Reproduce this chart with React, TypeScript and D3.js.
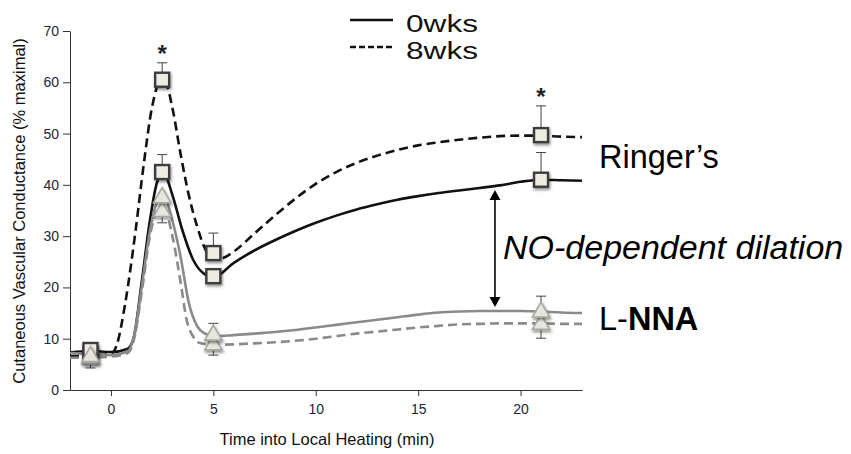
import React, { useEffect, useRef } from "react";
import * as d3 from "d3";

type Pt = [number, number];

// continuous traces (time in min, CVC % maximal)
const ringer0wks: Pt[] = [
  [-2, 7.3], [-1, 7.6], [0, 7.4], [0.8, 8.0], [1.1, 10], [1.5, 21], [1.9, 33], [2.3, 41], [2.6, 42],
  [3.0, 38], [3.5, 31], [4.0, 25.5], [4.5, 22.8], [5, 22], [6, 24.8], [7, 27.2], [8, 29.2], [9, 31],
  [10, 32.6], [11, 34], [12, 35.2], [13, 36.2], [14, 37.1], [15, 37.8], [16, 38.4], [17, 38.9], [18, 39.4],
  [19, 39.9], [20, 40.6], [21, 41], [22, 40.9], [23, 40.8],
];
const ringer8wks: Pt[] = [
  [-2, 6.6], [-1, 6.8], [0, 7.0], [0.3, 9], [0.7, 17], [1.2, 31], [1.6, 44], [2.0, 55], [2.4, 60],
  [2.7, 59.5], [3.0, 55], [3.4, 46], [3.8, 38], [4.2, 32], [4.6, 27.5], [5.0, 25.5], [5.5, 25.8],
  [6, 27], [7, 30.5], [8, 34], [9, 37.3], [10, 40.2], [11, 42.5], [12, 44.3], [13, 45.7], [14, 46.8],
  [15, 47.7], [16, 48.3], [17, 48.8], [18, 49.2], [19, 49.5], [20, 49.6], [21, 49.6], [22, 49.4], [23, 49.3],
];
const lnna0wks: Pt[] = [
  [-2, 7.2], [-1, 7.0], [0, 6.8], [0.8, 7.5], [1.1, 10], [1.5, 20], [1.9, 31], [2.3, 37], [2.6, 37.5],
  [3.0, 33], [3.4, 26], [3.8, 17], [4.2, 12.5], [4.6, 11], [5, 10.5], [6, 10.7], [7, 11], [8, 11.3],
  [9, 11.7], [10, 12.2], [11, 12.7], [12, 13.2], [13, 13.7], [14, 14.2], [15, 14.7], [16, 15.1],
  [17, 15.3], [18, 15.4], [19, 15.4], [20, 15.4], [21, 15.3], [22, 15.1], [23, 15.0],
];
const lnna8wks: Pt[] = [
  [-2, 6.3], [-1, 6.3], [0, 6.5], [0.8, 7.2], [1.1, 9.5], [1.5, 19], [1.9, 30], [2.3, 35], [2.6, 35.3],
  [3.0, 30], [3.4, 21], [3.7, 13.6], [4.0, 10.5], [4.3, 9.2], [5, 8.8], [6, 8.9], [7, 9.1], [8, 9.3],
  [9, 9.6], [10, 10], [11, 10.5], [12, 11], [13, 11.4], [14, 11.8], [15, 12.2], [16, 12.5], [17, 12.8],
  [18, 12.9], [19, 13], [20, 13], [21, 13], [22, 12.9], [23, 12.9],
];

// mean points [time, value, error]; error > 0 drawn up, < 0 drawn down
const markerTimes = [-1, 2.5, 5, 21];
const ringer0Means = [7.8, 42.5, 22.2, 41.0];
const ringer0Err = [0, 3.4, 0, 5.3];
const ringer8Means = [7.0, 60.5, 26.7, 49.7];
const ringer8Err = [0, 3.3, 3.9, 5.7];
const lnna0Means = [6.5, 37.5, 10.7, 15.2];
const lnna0Err = [0, 0, 2.3, 3.1];
const lnna8Means = [6.0, 34.8, 8.8, 12.8];
const lnna8Err = [-1.7, -2.2, -2.0, -2.7];

const significant: Pt[] = [[2.5, 63.8], [21, 55.4]];
const arrowSpan = { t: 18.75, top: 39.0, bottom: 16.2 };

const xTicks = [0, 5, 10, 15, 20];
const yTicks = [0, 10, 20, 30, 40, 50, 60, 70];

const App: React.FC = () => {
  const svgRef = useRef<SVGSVGElement | null>(null);

  useEffect(() => {
    const svg = d3.select(svgRef.current);
    svg.selectAll("*").remove();
    const width = 851;
    const height = 454;
    svg.attr("width", width).attr("height", height);

    const x = d3.scaleLinear().domain([-2, 23]).range([70, 582]);
    const y = d3.scaleLinear().domain([0, 70]).range([390, 31]);
    const tickColor = "#23233a";

    const defs = svg.append("defs");
    const f = defs.append("filter").attr("id", "shadow").attr("x", "-50%").attr("y", "-50%").attr("width", "200%").attr("height", "200%");
    f.append("feDropShadow").attr("dx", 1).attr("dy", 2).attr("stdDeviation", 1.4).attr("flood-color", "#000").attr("flood-opacity", 0.45);

    // axes
    const xAxis = svg.append("g").attr("transform", `translate(0,${y(0)})`)
      .call(d3.axisBottom(x).tickValues(xTicks).tickSize(6).tickSizeOuter(0).tickPadding(8));
    xAxis.select(".domain").attr("stroke", "#333");
    xAxis.selectAll(".tick line").attr("stroke", "#333");
    xAxis.selectAll("text").attr("font-family", "Arial, 'Liberation Sans'").attr("font-size", 14).attr("fill", tickColor);

    const yAxis = svg.append("g").attr("transform", `translate(${x(-2)},0)`)
      .call(d3.axisLeft(y).tickValues(yTicks).tickSize(7).tickSizeOuter(0).tickPadding(4));
    yAxis.select(".domain").attr("stroke", "#333");
    yAxis.selectAll(".tick line").attr("stroke", "#333");
    yAxis.selectAll("text").attr("font-family", "Arial, 'Liberation Sans'").attr("font-size", 14).attr("fill", tickColor);

    svg.append("text")
      .attr("x", 327).attr("y", 445)
      .attr("text-anchor", "middle")
      .attr("font-family", "Arial, 'Liberation Sans'").attr("font-size", 16.5).attr("fill", "#111")
      .text("Time into Local Heating (min)");

    svg.append("text")
      .attr("transform", "translate(25,211) rotate(-90)")
      .attr("text-anchor", "middle")
      .attr("font-family", "Arial, 'Liberation Sans'").attr("font-size", 16.5).attr("fill", "#111")
      .text("Cutaneous Vascular Conductance (% maximal)");

    // traces
    const line = d3.line<Pt>().x((d) => x(d[0])).y((d) => y(d[1])).curve(d3.curveMonotoneX);
    const traces = [
      { data: ringer8wks, color: "#111", dash: "9,5" },
      { data: ringer0wks, color: "#111", dash: null },
      { data: lnna8wks, color: "#8a8a8a", dash: "9,5" },
      { data: lnna0wks, color: "#8a8a8a", dash: null },
    ];
    traces.forEach((tr) => {
      svg.append("path")
        .attr("d", line(tr.data))
        .attr("fill", "none")
        .attr("stroke", tr.color)
        .attr("stroke-width", 2.6)
        .attr("stroke-dasharray", tr.dash)
        .attr("stroke-linejoin", "round");
    });

    // error bars
    const errs = [
      { means: ringer8Means, err: ringer8Err },
      { means: ringer0Means, err: ringer0Err },
      { means: lnna0Means, err: lnna0Err },
      { means: lnna8Means, err: lnna8Err },
    ];
    errs.forEach((s) => {
      markerTimes.forEach((t, i) => {
        if (!s.err[i]) return;
        const y0 = y(s.means[i]);
        const y1 = y(s.means[i] + s.err[i]);
        svg.append("line").attr("x1", x(t)).attr("x2", x(t)).attr("y1", y0).attr("y2", y1).attr("stroke", "#444").attr("stroke-width", 1);
        svg.append("line").attr("x1", x(t) - 5).attr("x2", x(t) + 5).attr("y1", y1).attr("y2", y1).attr("stroke", "#444").attr("stroke-width", 1);
      });
    });

    // square markers (Ringer's)
    const sq = 14;
    [ringer8Means, ringer0Means].forEach((means) => {
      markerTimes.forEach((t, i) => {
        svg.append("rect")
          .attr("x", x(t) - sq / 2).attr("y", y(means[i]) - sq / 2)
          .attr("width", sq).attr("height", sq)
          .attr("fill", "#edece1").attr("stroke", "#3c3c3c").attr("stroke-width", 2.4)
          .attr("filter", "url(#shadow)");
      });
    });

    // triangle markers (L-NNA)
    const tri = d3.symbol().type(d3.symbolTriangle).size(130);
    [lnna8Means, lnna0Means].forEach((means) => {
      markerTimes.forEach((t, i) => {
        svg.append("path")
          .attr("d", tri())
          .attr("transform", `translate(${x(t)},${y(means[i])})`)
          .attr("fill", "#e6e6dc").attr("stroke", "#a8a8a0").attr("stroke-width", 1.6)
          .attr("filter", "url(#shadow)");
      });
    });

    // significance asterisks
    significant.forEach(([t, v]) => {
      svg.append("text")
        .attr("x", x(t)).attr("y", y(v) - 1)
        .attr("text-anchor", "middle")
        .attr("font-family", "Arial, 'Liberation Sans'").attr("font-size", 24).attr("font-weight", "bold").attr("fill", "#222")
        .text("*");
    });

    // double-headed arrow
    const ax = x(arrowSpan.t);
    const yt = y(arrowSpan.top);
    const yb = y(arrowSpan.bottom);
    svg.append("line").attr("x1", ax).attr("x2", ax).attr("y1", yt + 8).attr("y2", yb - 8).attr("stroke", "#000").attr("stroke-width", 1.6);
    svg.append("path").attr("d", `M${ax},${yt} L${ax - 5.5},${yt + 10} L${ax + 5.5},${yt + 10} Z`).attr("fill", "#000");
    svg.append("path").attr("d", `M${ax},${yb} L${ax - 5.5},${yb - 10} L${ax + 5.5},${yb - 10} Z`).attr("fill", "#000");

    // annotations
    svg.append("text")
      .attr("x", 599).attr("y", 168)
      .attr("font-family", "Arial, 'Liberation Sans'").attr("font-size", 32.5).attr("fill", "#000")
      .text("Ringer\u2019s");
    svg.append("text")
      .attr("x", 503).attr("y", 259)
      .attr("font-family", "Arial, 'Liberation Sans'").attr("font-size", 34).attr("font-style", "italic").attr("fill", "#000")
      .text("NO-dependent dilation");
    const lnna = svg.append("text")
      .attr("x", 599).attr("y", 330)
      .attr("font-family", "Arial, 'Liberation Sans'").attr("font-size", 32.5).attr("fill", "#000");
    lnna.append("tspan").text("L-");
    lnna.append("tspan").attr("font-weight", "bold").text("NNA");

    // legend
    const legend = [
      { label: "0wks", dash: null, y: 20 },
      { label: "8wks", dash: "6,3", y: 47 },
    ];
    legend.forEach((l) => {
      svg.append("line").attr("x1", 350).attr("x2", 393).attr("y1", l.y).attr("y2", l.y)
        .attr("stroke", "#111").attr("stroke-width", 2.6).attr("stroke-dasharray", l.dash);
      svg.append("text")
        .attr("x", 406).attr("y", l.y + 4 + 8)
        .attr("font-family", "Arial, 'Liberation Sans'").attr("font-size", 23).attr("fill", "#111")
        .attr("textLength", 72).attr("lengthAdjust", "spacingAndGlyphs")
        .text(l.label);
    });
  }, []);

  return (
    <svg ref={svgRef} style={{ position: "absolute", left: 0, top: 0, background: "white" }} />
  );
};

export default App;
